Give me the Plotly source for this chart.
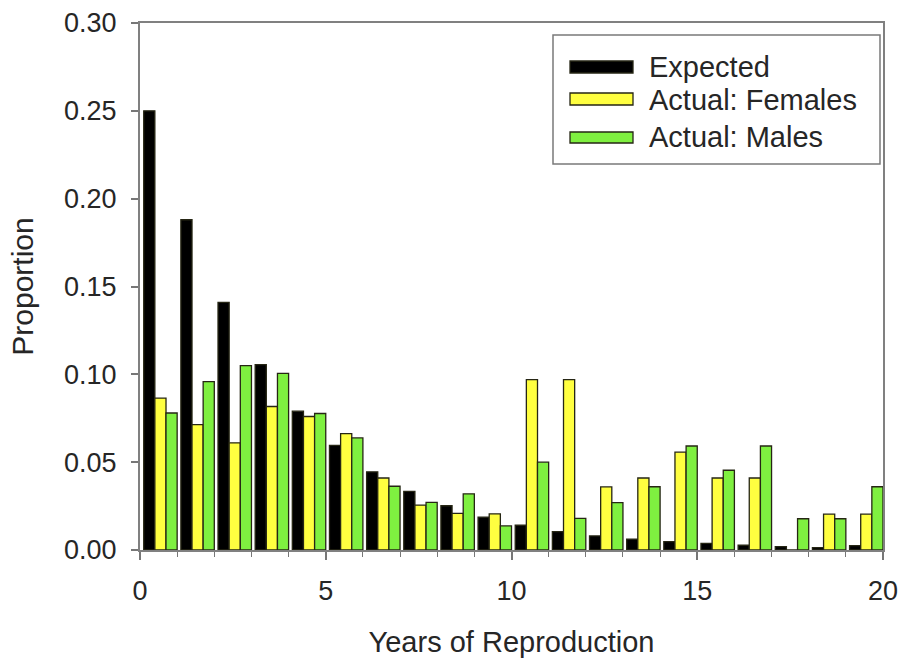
import plotly.graph_objects as go

years = list(range(20))
expected = [0.250, 0.188, 0.141, 0.1055, 0.079, 0.0596, 0.0445, 0.0334, 0.0252, 0.0187,
            0.0141, 0.0105, 0.0080, 0.0062, 0.0048, 0.0038, 0.0027, 0.0019, 0.0013, 0.0025]
females = [0.0865, 0.0714, 0.061, 0.0817, 0.076, 0.0663, 0.041, 0.0256, 0.0208, 0.0206,
           0.097, 0.097, 0.0359, 0.041, 0.0557, 0.041, 0.041, 0.0, 0.0204, 0.0204]
males = [0.078, 0.0958, 0.105, 0.1006, 0.0777, 0.0638, 0.0363, 0.0271, 0.032, 0.0137,
         0.050, 0.018, 0.027, 0.036, 0.0592, 0.0454, 0.0592, 0.0178, 0.0178, 0.036]
series_names = ["Expected", "Actual: Females", "Actual: Males"]
x_ticks = [0, 5, 10, 15, 20]
y_ticks = [0.0, 0.05, 0.10, 0.15, 0.20, 0.25, 0.30]

colors = ["#000000", "#FFFF40", "#7FF040"]
offsets = [0.1, 0.4, 0.7]
FONT = "Liberation Sans, Arial, sans-serif"
TXT = "#262626"

fig = go.Figure()
for name, vals, col, off in zip(series_names, [expected, females, males], colors, offsets):
    fig.add_trace(go.Bar(
        x=years, y=vals, name=name, width=0.3, offset=off,
        marker=dict(color=col, line=dict(color="#262614", width=1.3)),
        showlegend=False,
    ))

# custom legend (box, swatches, labels) in paper coordinates
L, R, T, B = 140, 883, 23, 550
def px_x(p):
    return (p - L) / (R - L)
def px_y(p):
    return (B - p) / (B - T)

shapes = [dict(type="rect", xref="paper", yref="paper",
               x0=px_x(553), x1=px_x(880), y0=px_y(164), y1=px_y(35),
               line=dict(color="#7a7a7a", width=1.5), fillcolor="white", layer="above")]
sw = [(61, 73), (93, 105), (132, 143)]
ty = [67, 100, 137]
annotations = []
for (y0, y1), t, col, name in zip(sw, ty, colors, series_names):
    shapes.append(dict(type="rect", xref="paper", yref="paper",
                       x0=px_x(570), x1=px_x(633), y0=px_y(y1), y1=px_y(y0),
                       fillcolor=col, line=dict(color="#262614", width=1.3), layer="above"))
    annotations.append(dict(xref="paper", yref="paper", x=px_x(647), y=px_y(t),
                            xanchor="left", yanchor="middle", text=name, showarrow=False,
                            font=dict(family=FONT, size=29, color=TXT)))

fig.update_layout(
    width=902, height=658,
    margin=dict(l=L, r=902 - R, t=T, b=658 - B),
    plot_bgcolor="white", paper_bgcolor="white",
    barmode="overlay",
    shapes=shapes, annotations=annotations,
    font=dict(family=FONT, color=TXT),
)
fig.update_xaxes(
    range=[0, 20], tickvals=x_ticks, ticks="outside", ticklen=8, tickwidth=1.5,
    tickcolor="#777", showline=True, linecolor="#808080", linewidth=2, mirror=True,
    showgrid=False, zeroline=False, tickfont=dict(family=FONT, size=27, color=TXT),
    ticklabelstandoff=8, automargin=False,
    minor=dict(dtick=1, ticks="outside", ticklen=5, tickwidth=1.2, tickcolor="#777", showgrid=False),
    title=dict(text="Years of Reproduction", font=dict(family=FONT, size=29, color=TXT), standoff=26),
)
fig.update_yaxes(
    range=[0, 0.30], tickvals=y_ticks, tickformat=".2f", ticks="outside", ticklen=7,
    tickwidth=1.5, tickcolor="#777", showline=True, linecolor="#808080", linewidth=2,
    mirror=True, showgrid=False, zeroline=False, ticklabelstandoff=9, automargin=False,
    tickfont=dict(family=FONT, size=27, color=TXT),
    title=dict(text="Proportion", font=dict(family=FONT, size=30, color=TXT), standoff=22),
)

fig.write_html("out.html")
